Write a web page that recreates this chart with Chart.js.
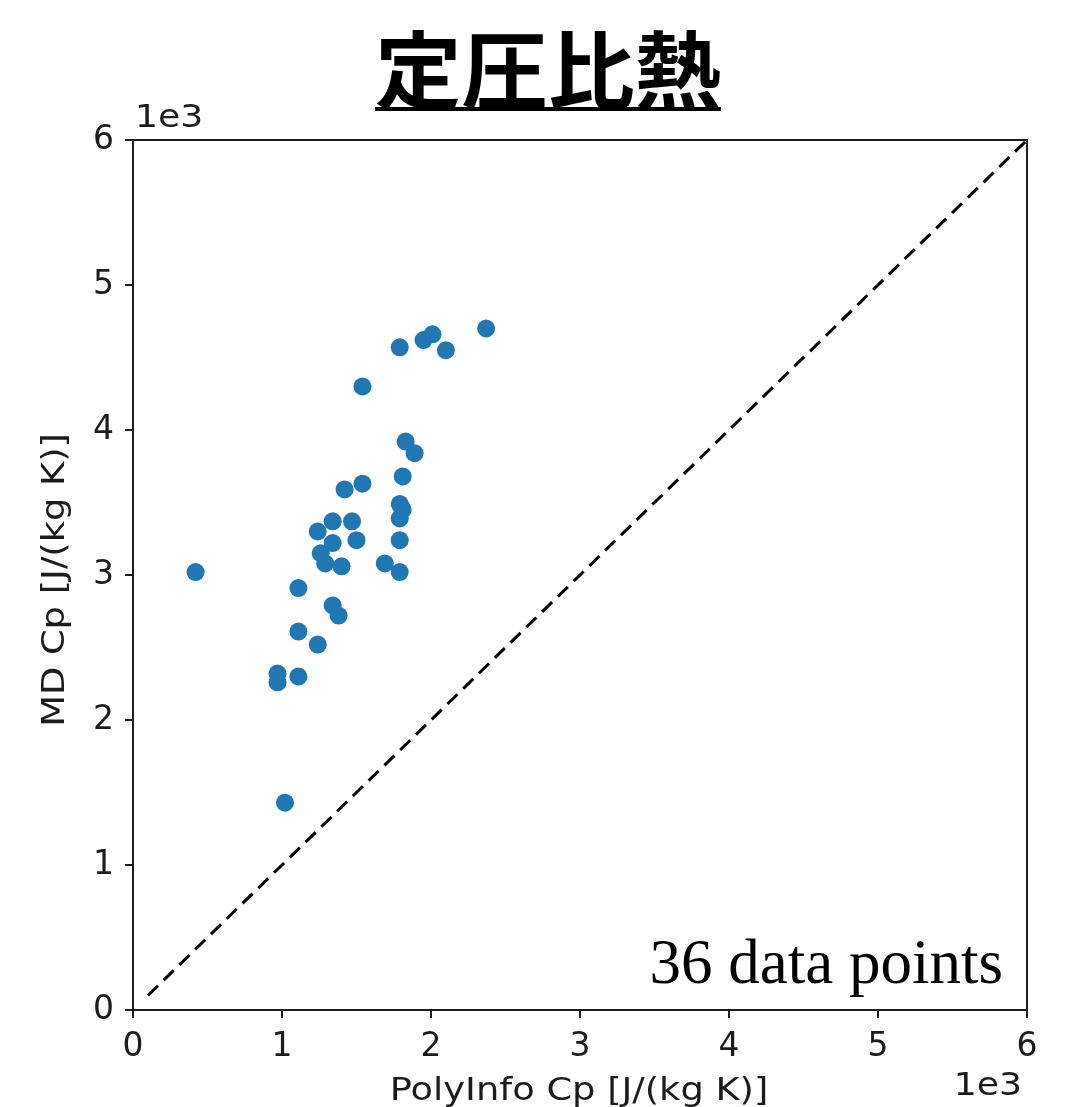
<!DOCTYPE html>
<html>
<head>
<meta charset="utf-8">
<script src="https://cdn.jsdelivr.net/npm/chart.js@4.4.0/dist/chart.umd.min.js"></script>
<style>
  html, body { margin: 0; padding: 0; background: #fff; }
  #wrap { width: 1081px; height: 1107px; }
</style>
</head>
<body>
<div id="wrap"><canvas id="cp"></canvas></div>
<script>
// PolyInfo Cp vs MD Cp, both in units of 1e3 J/(kg K)
const polyinfoCp = [
  2.37, 2.01, 1.95, 1.79, 2.10, 1.54, 1.83, 1.89, 1.81, 1.54,
  1.42, 1.79, 1.81, 1.79, 1.34, 1.47, 1.24, 1.34, 1.50, 1.79,
  1.26, 1.29, 1.40, 1.69, 1.79, 0.42, 1.11, 1.34, 1.38, 1.11,
  1.24, 0.97, 0.97, 1.11, 1.02, 1.80
];
const mdCp = [
  4.70, 4.66, 4.62, 4.57, 4.55, 4.30, 3.92, 3.84, 3.68, 3.63,
  3.59, 3.49, 3.45, 3.39, 3.37, 3.37, 3.30, 3.22, 3.24, 3.24,
  3.15, 3.08, 3.06, 3.08, 3.02, 3.02, 2.91, 2.79, 2.72, 2.61,
  2.52, 2.32, 2.26, 2.30, 1.43, 3.47
];
const tickValues = [0, 1, 2, 3, 4, 5, 6];
const parityLine = [0.1, 6];

const titleText = '定圧比熱';
const xTitle = 'PolyInfo Cp [J/(kg K)]';
const yTitle = 'MD Cp [J/(kg K)]';
const noteText = polyinfoCp.length + ' data points';

const points = polyinfoCp.map((x, i) => ({ x: x, y: mdCp[i] }));
const diag = parityLine.map(v => ({ x: v, y: v }));

const tickFont = { family: 'DejaVu Sans', size: 33 };
const axisColor = '#1c1c1c';

// draws text stretched horizontally around (x, y)
function wideText(ctx, txt, x, y, sx) {
  ctx.save();
  ctx.translate(x, y);
  ctx.scale(sx, 1);
  ctx.fillText(txt, 0, 0);
  ctx.restore();
}

const extras = {
  id: 'extras',
  afterDraw(chart) {
    const ctx = chart.ctx;
    const a = chart.chartArea;
    ctx.save();
    // frame on all four sides
    ctx.strokeStyle = axisColor;
    ctx.lineWidth = 2;
    ctx.strokeRect(a.left, a.top, a.right - a.left, a.bottom - a.top);

    // title with underline
    ctx.fillStyle = '#000';
    ctx.font = 'bold 84px "Noto Sans CJK JP"';
    ctx.textAlign = 'center';
    ctx.textBaseline = 'middle';
    wideText(ctx, titleText, 548, 70, 1.03);
    const w = ctx.measureText(titleText).width * 1.03;
    ctx.fillRect(548 - w / 2, 107, w, 4);

    // offset labels
    ctx.fillStyle = axisColor;
    ctx.font = '32px "DejaVu Sans"';
    ctx.textAlign = 'left';
    ctx.textBaseline = 'bottom';
    wideText(ctx, '1e3', a.left + 2, a.top - 5, 1.13);
    ctx.textAlign = 'right';
    ctx.textBaseline = 'top';
    wideText(ctx, '1e3', 1022, 1071, 1.13);

    // axis titles
    ctx.textAlign = 'center';
    ctx.textBaseline = 'top';
    wideText(ctx, xTitle, 579, 1076, 1.15);
    ctx.translate(40, 580);
    ctx.rotate(-Math.PI / 2);
    wideText(ctx, yTitle, 0, 0, 1.15);
    ctx.setTransform(1, 0, 0, 1, 0, 0);

    // count note
    ctx.fillStyle = '#000';
    ctx.font = '63px "Liberation Serif"';
    ctx.textAlign = 'right';
    ctx.textBaseline = 'alphabetic';
    ctx.fillText(noteText, 1003, 983);
    ctx.restore();
  }
};

new Chart(document.getElementById('cp'), {
  type: 'scatter',
  data: {
    datasets: [
      {
        type: 'line',
        data: diag,
        borderColor: '#000',
        borderWidth: 3,
        borderDash: [14, 8],
        pointRadius: 0,
        fill: false
      },
      {
        data: points,
        backgroundColor: '#1f77b4',
        borderColor: '#1f77b4',
        pointRadius: 9,
        pointBorderWidth: 0
      }
    ]
  },
  options: {
    responsive: true,
    maintainAspectRatio: false,
    animation: false,
    layout: { padding: { left: 0, top: 140, right: 54, bottom: 0 } },
    plugins: { legend: { display: false }, tooltip: { enabled: false } },
    scales: {
      x: {
        type: 'linear',
        min: 0, max: 6,
        afterFit: s => { s.height = 97; },
        afterBuildTicks: s => { s.ticks = tickValues.map(v => ({ value: v })); },
        grid: { drawOnChartArea: false, drawTicks: true, tickLength: 8, color: axisColor, lineWidth: 2 },
        border: { display: true, color: axisColor, width: 2 },
        ticks: { font: tickFont, color: axisColor, padding: 10, maxRotation: 0 }
      },
      y: {
        type: 'linear',
        min: 0, max: 6,
        afterFit: s => { s.width = 133; },
        afterBuildTicks: s => { s.ticks = tickValues.map(v => ({ value: v })); },
        grid: { drawOnChartArea: false, drawTicks: true, tickLength: 8, color: axisColor, lineWidth: 2 },
        border: { display: true, color: axisColor, width: 2 },
        ticks: { font: tickFont, color: axisColor, padding: 11 }
      }
    }
  },
  plugins: [extras]
});
</script>
</body>
</html>
